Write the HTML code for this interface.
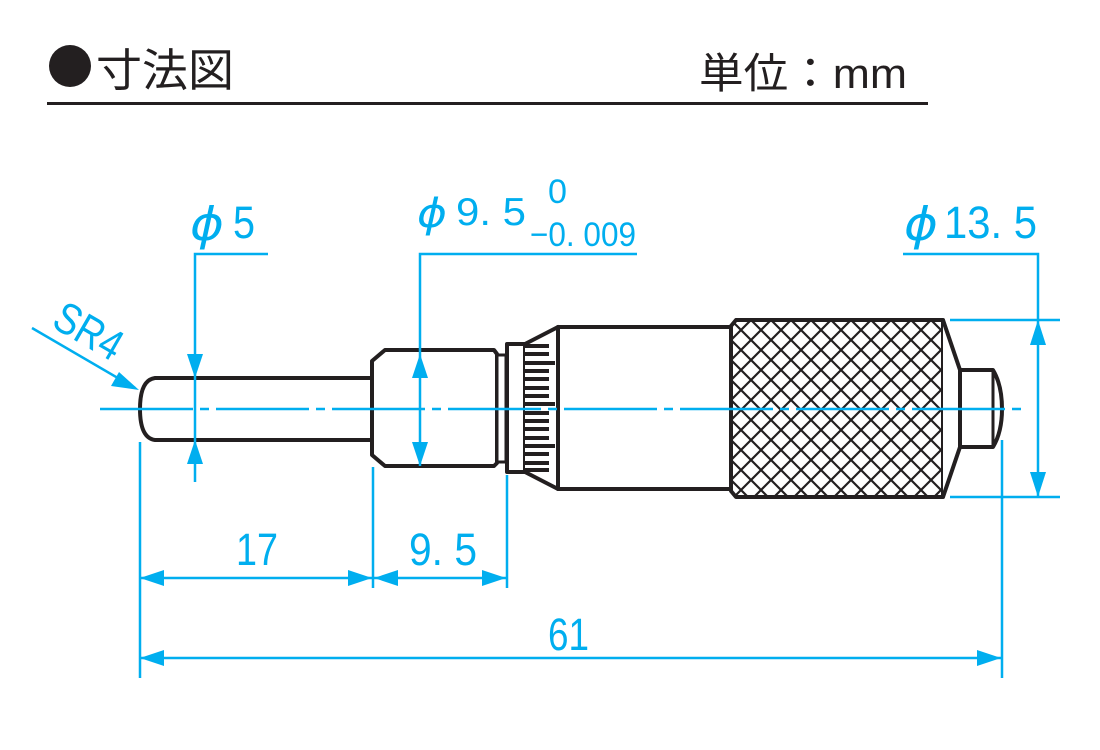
<!DOCTYPE html>
<html><head><meta charset="utf-8"><style>
html,body{margin:0;padding:0;background:#fff;width:1100px;height:750px;overflow:hidden}
svg{display:block}
.c{fill:#00aeef;font-family:"Liberation Sans","Noto Sans CJK JP",sans-serif}
.p{fill:#00aeef;font-family:"DejaVu Sans",sans-serif;font-style:italic}
</style></head><body>
<svg width="1100" height="750" viewBox="0 0 1100 750" xmlns="http://www.w3.org/2000/svg">
<defs>
<pattern id="kn" patternUnits="userSpaceOnUse" width="20" height="20" x="731" y="320">
<path d="M0,0 L20,20 M20,0 L0,20" stroke="#231f20" stroke-width="2.2" fill="none"/>
<path d="M-1,19 L1,21 M19,-1 L21,1 M-1,1 L1,-1 M19,21 L21,19" stroke="#231f20" stroke-width="2.2"/>
</pattern>
</defs>
<circle cx="70" cy="66" r="21" fill="#231f20"/>
<text x="96" y="86" font-size="45" fill="#231f20" font-family="'Noto Sans CJK JP',sans-serif" textLength="138" lengthAdjust="spacingAndGlyphs">寸法図</text>
<text x="699" y="88" font-size="42" fill="#231f20" font-family="'Liberation Sans','Noto Sans CJK JP',sans-serif" textLength="208" lengthAdjust="spacingAndGlyphs">単位：mm</text>
<rect x="47" y="102" width="881" height="3" fill="#231f20"/>

<g stroke="#231f20" stroke-width="4" fill="#fff" stroke-linejoin="round">
<path d="M372,378 L155,378 Q140,380 140,409 Q140,438 155,440 L372,440"/>
<path d="M385,350 L494,350 L497,354 L497,463 L494,466 L385,466 L372,455 L372,361 Z"/>
<rect x="497" y="355" width="9" height="107" stroke-width="3"/>
<rect x="507" y="344" width="18" height="128"/>
<path d="M525,344 L558,327 L558,489 L525,472"/>
<rect x="558" y="327" width="173" height="162"/>
<path d="M736,320 L943,320 L943,497 L736,497 L731,491 L731,326 Z" fill="url(#kn)"/>
<path d="M943,320 L960,370 L960,447 L943,497"/>
<path d="M960,370 L993,370 Q1002,385 1002,409 Q1002,432 993,447 L960,447 Z"/>
<path d="M993,370 L993,447" stroke-width="3"/>
</g>
<g fill="#231f20">
<rect x="525" y="344" width="24" height="4"/><rect x="525" y="352" width="24" height="4"/>
<rect x="525" y="361" width="30" height="4"/><rect x="525" y="369" width="24" height="4"/>
<rect x="525" y="377" width="24" height="4"/><rect x="525" y="386" width="24" height="4"/>
<rect x="525" y="394" width="24" height="4"/><rect x="525" y="402" width="30" height="4"/>
<rect x="525" y="411" width="24" height="4"/><rect x="525" y="419" width="24" height="4"/>
<rect x="525" y="427" width="24" height="4"/><rect x="525" y="436" width="24" height="4"/>
<rect x="525" y="444" width="30" height="4"/><rect x="525" y="452" width="24" height="4"/>
<rect x="525" y="461" width="24" height="4"/><rect x="525" y="468" width="24" height="4"/>
</g>

<g stroke="#00aeef" stroke-width="2.5" fill="none">
<line x1="100" y1="409" x2="1027" y2="409" stroke-dasharray="93 7 9 7"/>
<polyline points="268,254 195,254 195,482"/>
<polyline points="637,254 420,254 420,466"/>
<polyline points="903,254 1038,254 1038,497"/>
<line x1="950" y1="320" x2="1060" y2="320"/>
<line x1="950" y1="497" x2="1060" y2="497"/>
<line x1="32" y1="328" x2="135" y2="388"/>
<line x1="140" y1="442" x2="140" y2="678"/>
<line x1="373" y1="467" x2="373" y2="588"/>
<line x1="507" y1="475" x2="507" y2="588"/>
<line x1="1002" y1="440" x2="1002" y2="678"/>
<line x1="140" y1="578" x2="507" y2="578"/>
<line x1="140" y1="658" x2="1002" y2="658"/>
</g>
<g fill="#00aeef">
<path d="M195,378 L187,354 L203,354 Z"/>
<path d="M195,440 L187,464 L203,464 Z"/>
<path d="M420,354 L412,378 L428,378 Z"/>
<path d="M420,466 L412,442 L428,442 Z"/>
<path d="M1038,320 L1030,345 L1046,345 Z"/>
<path d="M1038,497 L1030,472 L1046,472 Z"/>
<path d="M139,390 L111,386 L119,372 Z"/>
<path d="M140,578 L164,570 L164,586 Z"/>
<path d="M372,578 L348,570 L348,586 Z"/>
<path d="M374,578 L398,570 L398,586 Z"/>
<path d="M506,578 L482,570 L482,586 Z"/>
<path d="M140,658 L164,650 L164,666 Z"/>
<path d="M1001,658 L977,650 L977,666 Z"/>
</g>
<text class="p" x="190" y="240" font-size="46" textLength="34" lengthAdjust="spacingAndGlyphs">ϕ</text>
<text class="c" x="233" y="238" font-size="45" textLength="22" lengthAdjust="spacingAndGlyphs">5</text>
<text class="p" x="417" y="227" font-size="40" textLength="30" lengthAdjust="spacingAndGlyphs">ϕ</text>
<text class="c" x="456" y="225" font-size="39" textLength="70" lengthAdjust="spacingAndGlyphs">9. 5</text>
<text class="c" x="548" y="203" font-size="34" textLength="19" lengthAdjust="spacingAndGlyphs">0</text>
<text class="c" x="530" y="246" font-size="34" textLength="106" lengthAdjust="spacingAndGlyphs">−0. 009</text>
<text class="p" x="904" y="240" font-size="46" textLength="34" lengthAdjust="spacingAndGlyphs">ϕ</text>
<text class="c" x="944" y="238" font-size="45" textLength="93" lengthAdjust="spacingAndGlyphs">13. 5</text>
<text class="c" x="50" y="326" font-size="44" transform="rotate(30 50 326)" textLength="72" lengthAdjust="spacingAndGlyphs">SR4</text>
<text class="c" x="236" y="565" font-size="45" textLength="42" lengthAdjust="spacingAndGlyphs">17</text>
<text class="c" x="409" y="565" font-size="45" textLength="68" lengthAdjust="spacingAndGlyphs">9. 5</text>
<text class="c" x="548" y="650" font-size="45" textLength="41" lengthAdjust="spacingAndGlyphs">61</text>
</svg>
</body></html>
